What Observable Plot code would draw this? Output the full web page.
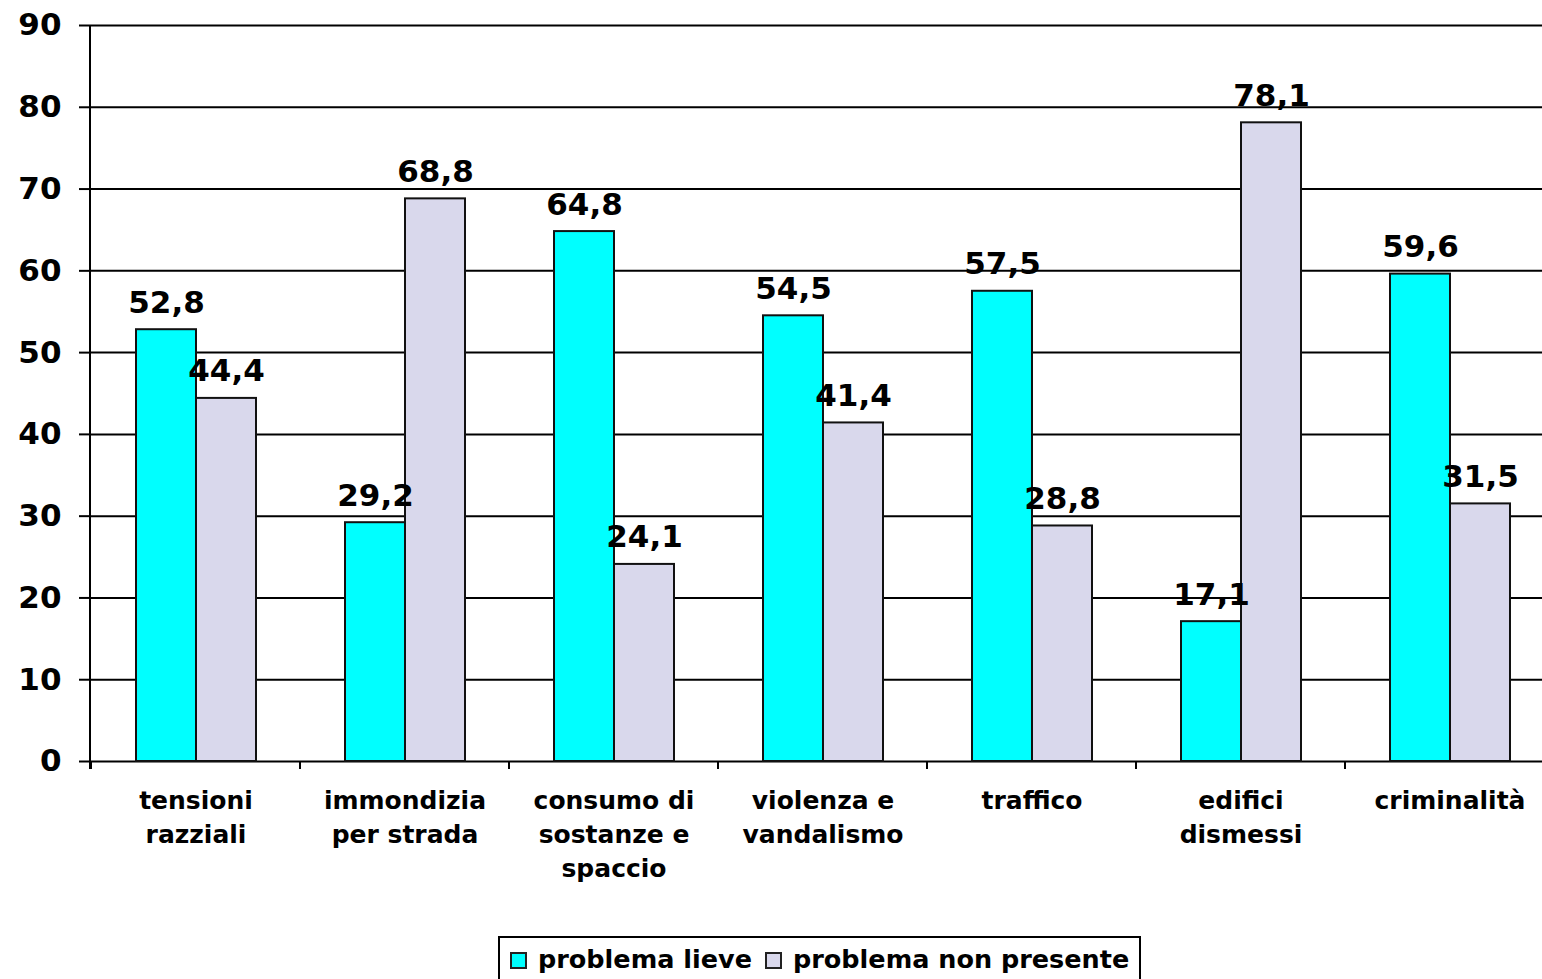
<!DOCTYPE html>
<html>
<head>
<meta charset="utf-8">
<script src="https://cdn.jsdelivr.net/npm/d3@7"></script>
<script src="https://cdn.jsdelivr.net/npm/@observablehq/plot@0.6"></script>
<style>
  html, body { margin: 0; padding: 0; background: #fff; }
  #wrap { position: relative; width: 1542px; height: 979px; overflow: hidden; font-family: "DejaVu Sans", Verdana, sans-serif; }
  #legend { position: absolute; left: 498px; top: 936px; width: 643px; height: 60px; border: 2px solid #000; box-sizing: border-box; background: #fff;
            display: flex; align-items: flex-start; padding-top: 6px; padding-left: 10px; font-weight: bold; font-size: 25.5px; color: #000; white-space: nowrap; }
  .item { display: flex; align-items: center; margin-right: 13px; }
  .sw { width: 13px; height: 13px; border: 2px solid #222; margin-right: 11px; margin-top: 2px; }
</style>
</head>
<body>
<div id="wrap">
  <div id="chart"></div>
  <div id="legend"></div>
</div>
<script>
const categories = ["tensioni\nrazziali", "immondizia\nper strada", "consumo di\nsostanze e\nspaccio", "violenza e\nvandalismo", "traffico", "edifici\ndismessi", "criminalità"];
const seriesNames = ["problema lieve", "problema non presente"];
const lieve = [52.8, 29.2, 64.8, 54.5, 57.5, 17.1, 59.6];
const nonPresente = [44.4, 68.8, 24.1, 41.4, 28.8, 78.1, 31.5];
const yTicks = [0, 10, 20, 30, 40, 50, 60, 70, 80, 90];
const colors = ["#00ffff", "#d9d8ec"];

const data = [];
categories.forEach((c, i) => {
  data.push({cat: c, series: seriesNames[0], value: lieve[i]});
  data.push({cat: c, series: seriesNames[1], value: nonPresente[i]});
});
const fmt = v => v.toFixed(1).replace(".", ",");

const chart = Plot.plot({
  width: 1555,
  height: 930,
  marginLeft: 90,
  marginRight: 0,
  marginTop: 25,
  marginBottom: 169,
  style: {fontFamily: "'DejaVu Sans', Verdana, sans-serif", color: "#000", background: "#fff", overflow: "visible", maxWidth: "none"},
  fx: {domain: categories, padding: 0},
  x: {domain: seriesNames, paddingInner: 0, paddingOuter: 0.715, axis: null},
  y: {domain: [0, 90]},
  color: {domain: seriesNames, range: colors},
  marks: [
    Plot.gridY(yTicks, {stroke: "#000", strokeOpacity: 1, strokeWidth: 2}),
    Plot.barY(data, {fx: "cat", x: "series", y: "value", fill: "series", stroke: "#111", strokeWidth: 2}),
    Plot.text(data, {fx: "cat", x: "series", y: "value", text: d => fmt(d.value), dy: -17, lineAnchor: "bottom",
                     fontSize: 31, fontWeight: "bold", fill: "#000"}),
    Plot.axisY(yTicks, {tickSize: 12, tickPadding: 18, fontSize: 31, fontWeight: "bold", strokeWidth: 2, label: null, tickFormat: d => String(d)}),
    Plot.axisFx({anchor: "bottom", tickSize: 0, tickPadding: 23, fontSize: 25, fontWeight: "bold", lineHeight: 1.36, label: null})
  ]
});

document.getElementById("chart").appendChild(chart);

// category boundary ticks and vertical y-axis line, positioned from Plot's scales
const fx = chart.scale("fx");
const ys = chart.scale("y");
const y0 = ys.apply(0), yTop = ys.apply(90);
const bounds = categories.map(c => fx.apply(c));
bounds.push(fx.range[1]);
const g = d3.select(chart).append("g").attr("stroke", "#000").attr("stroke-width", 2);
g.selectAll("line.tk").data(bounds).join("line")
  .attr("x1", d => d).attr("x2", d => d).attr("y1", y0).attr("y2", y0 + 8);
g.append("line").attr("x1", fx.range[0]).attr("x2", fx.range[0]).attr("y1", yTop).attr("y2", y0 + 8);

// legend
const legend = d3.select("#legend");
seriesNames.forEach((s, i) => {
  const it = legend.append("div").attr("class", "item");
  it.append("div").attr("class", "sw").style("background", colors[i]);
  it.append("span").text(s);
});
</script>
</body>
</html>
